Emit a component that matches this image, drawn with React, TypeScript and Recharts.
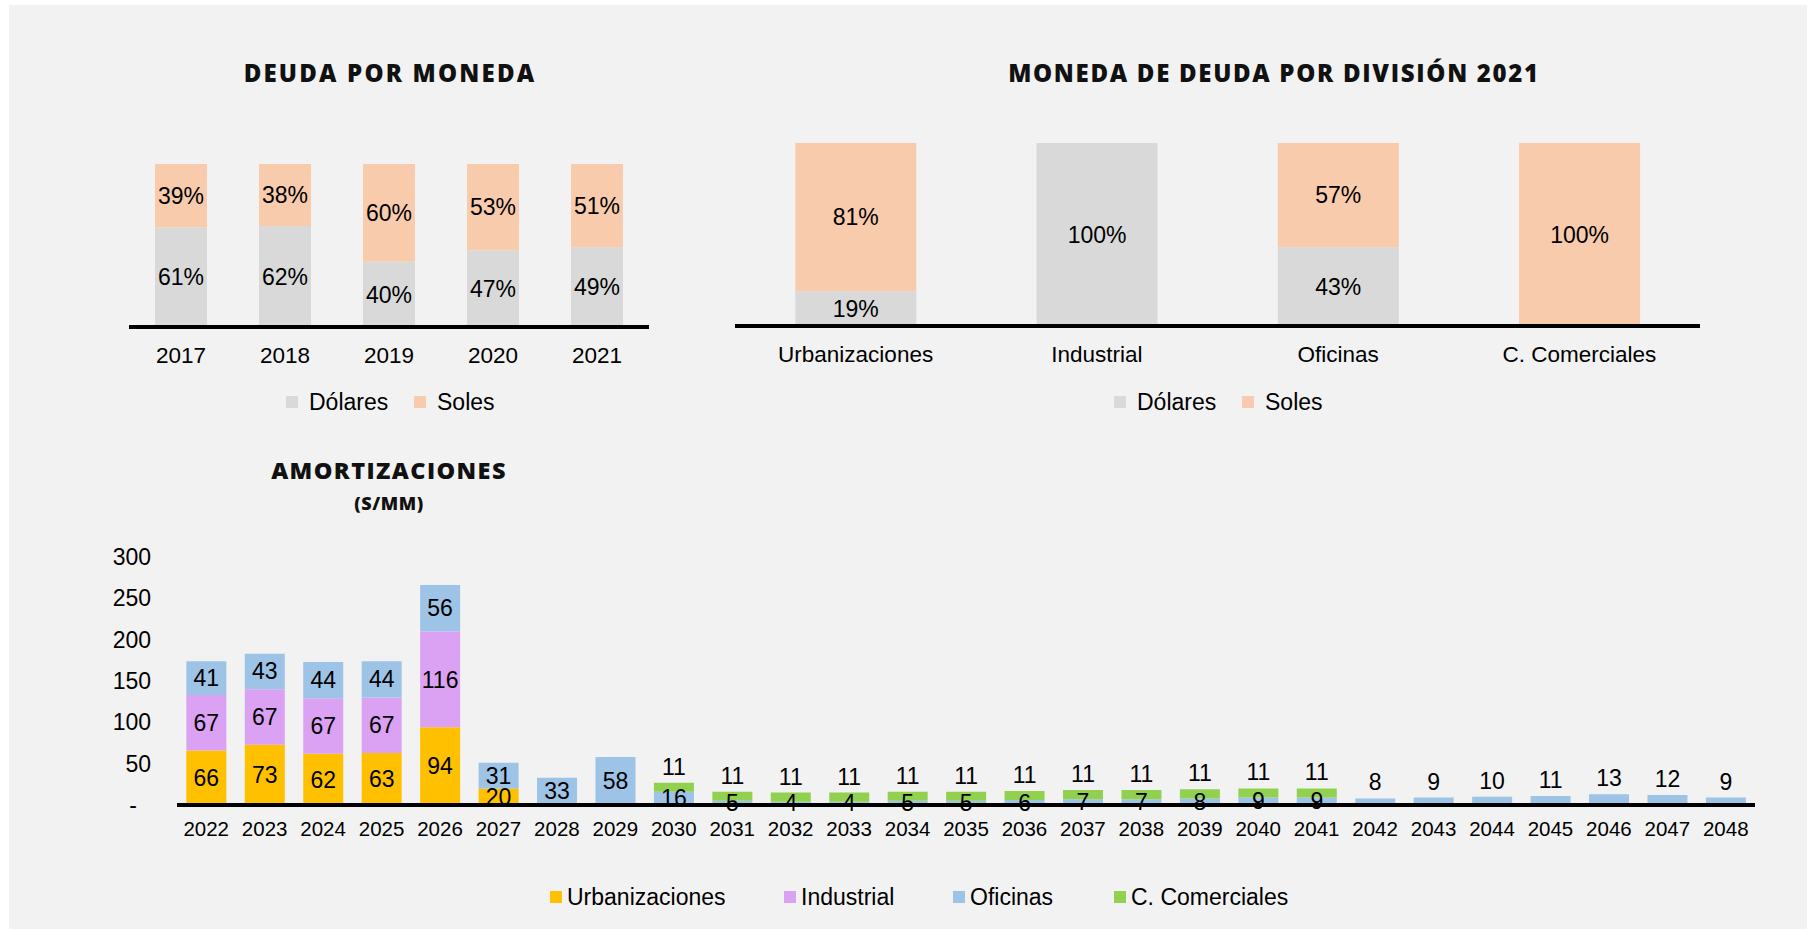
import { BarChart, Bar, XAxis, YAxis, LabelList } from "recharts";

const years = ["2017", "2018", "2019", "2020", "2021"];
const dolaresYear = [61, 62, 40, 47, 49];
const solesYear = [39, 38, 60, 53, 51];

const divisions = ["Urbanizaciones", "Industrial", "Oficinas", "C. Comerciales"];
const dolaresDiv = [19, 100, 43, 0];
const solesDiv = [81, 0, 57, 100];

const amortYears = [
  "2022", "2023", "2024", "2025", "2026", "2027", "2028", "2029", "2030",
  "2031", "2032", "2033", "2034", "2035", "2036", "2037", "2038", "2039",
  "2040", "2041", "2042", "2043", "2044", "2045", "2046", "2047", "2048",
];
const urbanizaciones = [66, 73, 62, 63, 94, 20, 0, 0, 0, 0, 0, 0, 0, 0, 0, 0, 0, 0, 0, 0, 0, 0, 0, 0, 0, 0, 0];
const industrial = [67, 67, 67, 67, 116, 0, 0, 0, 0, 0, 0, 0, 0, 0, 0, 0, 0, 0, 0, 0, 0, 0, 0, 0, 0, 0, 0];
const oficinas = [41, 43, 44, 44, 56, 31, 33, 58, 16, 5, 4, 4, 5, 5, 6, 7, 7, 8, 9, 9, 8, 9, 10, 11, 13, 12, 9];
const comerciales = [0, 0, 0, 0, 0, 0, 0, 0, 11, 11, 11, 11, 11, 11, 11, 11, 11, 11, 11, 11, 0, 0, 0, 0, 0, 0, 0];
const amortTicks = [0, 50, 100, 150, 200, 250, 300];

const GRAY = "#d9d9d9";
const PEACH = "#f8cbad";
const YELLOW = "#ffc000";
const PURPLE = "#dba2f4";
const BLUE = "#9dc3e6";
const GREEN = "#92d050";

const FONT = "'Liberation Sans', Arial, sans-serif";
const TITLE_FONT = "'Open Sans', sans-serif";
const LABEL_SIZE = 23;

const yearData = years.map((year, i) => ({ year, dolares: dolaresYear[i], soles: solesYear[i] }));
const divData = divisions.map((div, i) => ({ div, dolares: dolaresDiv[i], soles: solesDiv[i] }));
const amortData = amortYears.map((year, i) => ({
  year,
  urb: urbanizaciones[i],
  ind: industrial[i],
  ofi: oficinas[i],
  cc: comerciales[i],
}));

const pct = (v: any) => (v ? `${v}%` : "");
const num = (v: any) => (v ? `${v}` : "");

// oficinas label sits above the bar when it is the only (small) segment
function OficinasLabel(props: any) {
  const { x, y, width, height, value, index } = props;
  if (!value) return null;
  const alone = !comerciales[index] && !urbanizaciones[index] && !industrial[index];
  const onTop = alone && value < 15;
  return (
    <text
      x={x + width / 2}
      y={onTop ? y - 16 : y + height / 2}
      textAnchor="middle"
      dominantBaseline="central"
      fill="#000"
      fontSize={LABEL_SIZE}
      fontFamily={FONT}
    >
      {value}
    </text>
  );
}

function AmortYTick({ x, y, payload }: any) {
  const zero = payload.value === 0;
  return (
    <text x={zero ? x - 14 : x} y={y} dy="0.355em" textAnchor="end" fill="#000" fontSize={23} fontFamily={FONT}>
      {zero ? "-" : payload.value}
    </text>
  );
}

function Title({ cx, cy, size, spacing, children }: any) {
  return (
    <div
      style={{
        position: "absolute", left: cx - 400, top: cy - 15, width: 800, lineHeight: "30px",
        textAlign: "center", fontFamily: TITLE_FONT, fontWeight: 800, fontSize: size,
        letterSpacing: spacing, color: "#111",
      }}
    >
      {children}
    </div>
  );
}

function LegendItem({ left, cy, color, label, gap }: any) {
  return (
    <div
      style={{
        position: "absolute", left, top: cy - 13, height: 26, display: "flex", alignItems: "center",
        fontFamily: FONT, fontSize: 23, color: "#000", whiteSpace: "nowrap",
      }}
    >
      <span style={{ display: "inline-block", width: 12, height: 12, background: color, marginRight: gap }} />
      <span>{label}</span>
    </div>
  );
}

const axisTick = { fill: "#000", fontSize: 22.5, fontFamily: FONT };

export default function App() {
  return (
    <div style={{ position: "relative", width: 1807, height: 929, background: "#fff", overflow: "hidden" }}>
      <style>{"body{margin:0}"}</style>
      <div style={{ position: "absolute", left: 9, top: 5, right: 0, bottom: 0, background: "#f2f2f2" }} />

      <Title cx={390} cy={73} size={24} spacing={2.2}>DEUDA POR MONEDA</Title>
      <Title cx={1274} cy={73} size={24} spacing={1.7}>MONEDA DE DEUDA POR DIVISIÓN 2021</Title>
      <Title cx={389} cy={470} size={23.5} spacing={1.4}>AMORTIZACIONES</Title>
      <Title cx={389} cy={503} size={18} spacing={0.6}>(S/MM)</Title>

      <div style={{ position: "absolute", left: 0, top: 0 }}>
        <BarChart width={700} height={440} data={yearData} barCategoryGap="25%"
          margin={{ top: 164, right: 51, bottom: 83, left: 129 }}>
          <XAxis dataKey="year" height={30} tickLine={false} tickMargin={14}
            axisLine={{ stroke: "#000", strokeWidth: 4 }} tick={axisTick} />
          <YAxis hide domain={[0, 100]} />
          <Bar dataKey="dolares" stackId="a" fill={GRAY} isAnimationActive={false}>
            <LabelList dataKey="dolares" position="center" formatter={pct} fill="#000" fontSize={LABEL_SIZE} fontFamily={FONT} />
          </Bar>
          <Bar dataKey="soles" stackId="a" fill={PEACH} isAnimationActive={false}>
            <LabelList dataKey="soles" position="center" formatter={pct} fill="#000" fontSize={LABEL_SIZE} fontFamily={FONT} />
          </Bar>
        </BarChart>
      </div>
      <LegendItem left={286} cy={402} color={GRAY} label="Dólares" gap={11} />
      <LegendItem left={414} cy={402} color={PEACH} label="Soles" gap={11} />

      <div style={{ position: "absolute", left: 700, top: 0 }}>
        <BarChart width={1100} height={440} data={divData} barCategoryGap="25%"
          margin={{ top: 143, right: 100, bottom: 84, left: 35 }}>
          <XAxis dataKey="div" height={30} tickLine={false} tickMargin={14}
            axisLine={{ stroke: "#000", strokeWidth: 4 }} tick={axisTick} />
          <YAxis hide domain={[0, 100]} />
          <Bar dataKey="dolares" stackId="a" fill={GRAY} isAnimationActive={false}>
            <LabelList dataKey="dolares" position="center" formatter={pct} fill="#000" fontSize={LABEL_SIZE} fontFamily={FONT} />
          </Bar>
          <Bar dataKey="soles" stackId="a" fill={PEACH} isAnimationActive={false}>
            <LabelList dataKey="soles" position="center" formatter={pct} fill="#000" fontSize={LABEL_SIZE} fontFamily={FONT} />
          </Bar>
        </BarChart>
      </div>
      <LegendItem left={1114} cy={402} color={GRAY} label="Dólares" gap={11} />
      <LegendItem left={1242} cy={402} color={PEACH} label="Soles" gap={11} />

      <div style={{ position: "absolute", left: 0, top: 450 }}>
        <BarChart width={1807} height={479} data={amortData} barCategoryGap="16%"
          margin={{ top: 107, right: 52, bottom: 94, left: 117 }}>
          <XAxis dataKey="year" height={30} tickLine={false} tickMargin={10} interval={0}
            axisLine={{ stroke: "#000", strokeWidth: 4 }} tick={{ ...axisTick, fontSize: 20.5 }} />
          <YAxis width={60} domain={[0, 300]} ticks={amortTicks} axisLine={false} tickLine={false}
            tickMargin={20} tick={<AmortYTick />} />
          <Bar dataKey="urb" stackId="a" fill={YELLOW} isAnimationActive={false}>
            <LabelList dataKey="urb" position="center" formatter={num} fill="#000" fontSize={LABEL_SIZE} fontFamily={FONT} />
          </Bar>
          <Bar dataKey="ind" stackId="a" fill={PURPLE} isAnimationActive={false}>
            <LabelList dataKey="ind" position="center" formatter={num} fill="#000" fontSize={LABEL_SIZE} fontFamily={FONT} />
          </Bar>
          <Bar dataKey="ofi" stackId="a" fill={BLUE} isAnimationActive={false}>
            <LabelList dataKey="ofi" content={<OficinasLabel />} />
          </Bar>
          <Bar dataKey="cc" stackId="a" fill={GREEN} isAnimationActive={false}>
            <LabelList dataKey="cc" position="top" offset={8} formatter={num} fill="#000" fontSize={LABEL_SIZE} fontFamily={FONT} />
          </Bar>
        </BarChart>
      </div>
      <LegendItem left={550} cy={897} color={YELLOW} label="Urbanizaciones" gap={5} />
      <LegendItem left={784} cy={897} color={PURPLE} label="Industrial" gap={5} />
      <LegendItem left={953} cy={897} color={BLUE} label="Oficinas" gap={5} />
      <LegendItem left={1114} cy={897} color={GREEN} label="C. Comerciales" gap={5} />
    </div>
  );
}
